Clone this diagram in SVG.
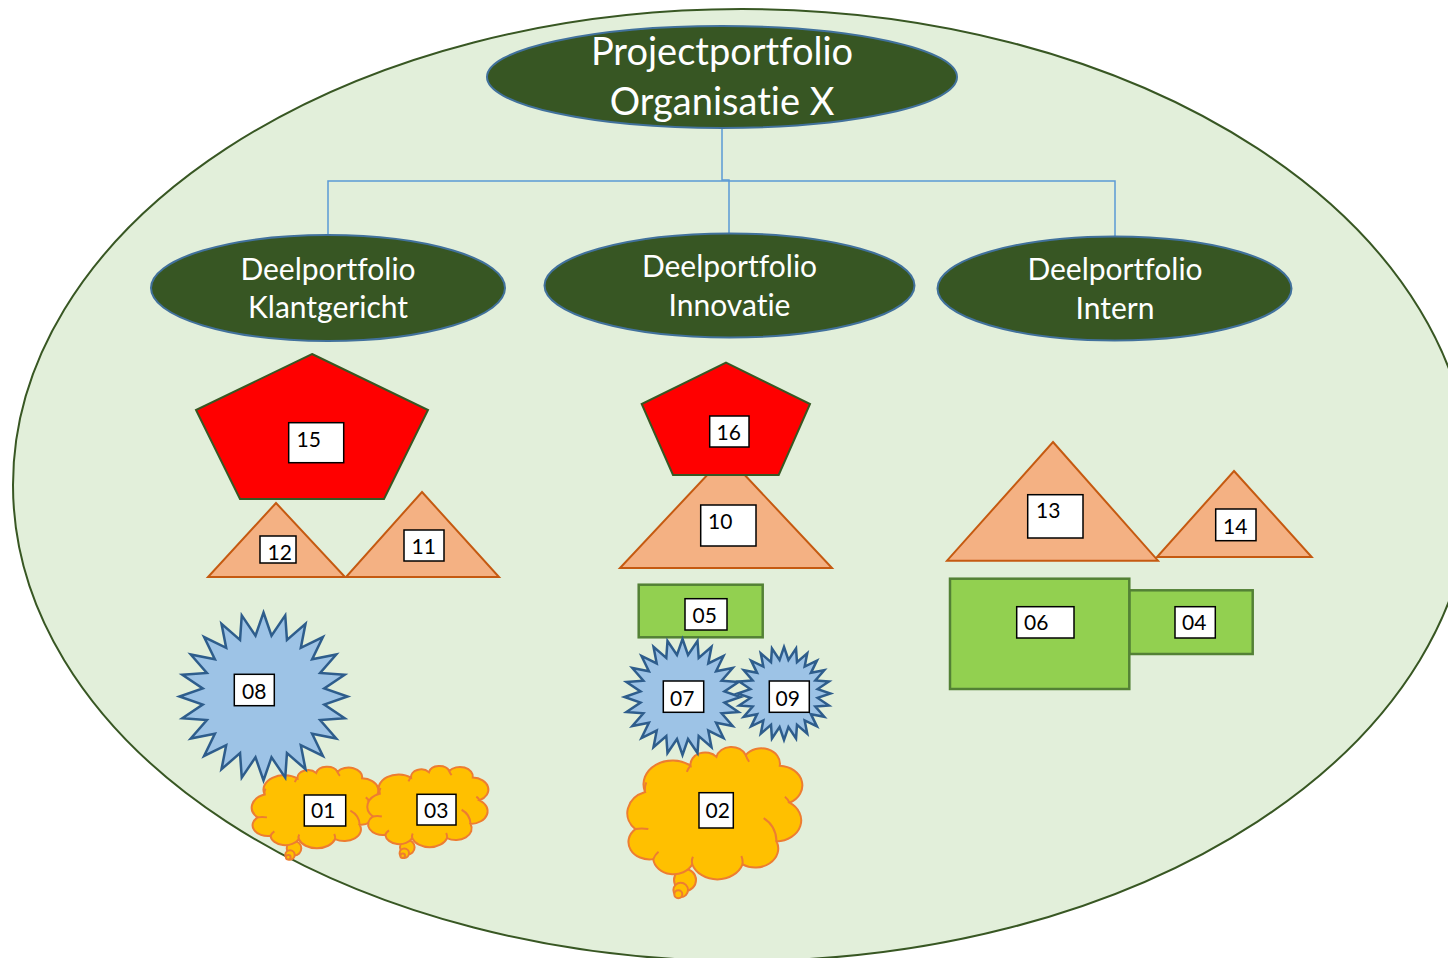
<svg xmlns="http://www.w3.org/2000/svg" xmlns:xlink="http://www.w3.org/1999/xlink" width="1448" height="958" viewBox="0 0 1448 958">
<style>
text{font-variant-ligatures:none;font-feature-settings:"liga" 0,"dlig" 0}
.head{fill:#375623;stroke:#41719C;stroke-width:2}
.ht{font-family:Lato,"Open Sans","Liberation Sans",sans-serif;fill:#ffffff;text-anchor:middle}
.pent{fill:#FF0000;stroke:#385723;stroke-width:2}
.tri{fill:#F4B183;stroke:#C55A11;stroke-width:2}
.rect{fill:#92D050;stroke:#538135;stroke-width:2.5}
.star{fill:#9DC3E6;stroke:#2E5D8C}
.cloud{fill:#FFC000;stroke:#ED7D31;stroke-width:2}
.crease{fill:none;stroke:#ED7D31;stroke-width:2}
.lbl{fill:#ffffff;stroke:#000000;stroke-width:1.5}
.lt{font-family:Lato,"Open Sans","Liberation Sans",sans-serif;font-size:21px;fill:#000000}
.conn{fill:none;stroke:#5B9BD5;stroke-width:1.5}
</style>
<defs>
<polygon id="star24" points="0,-100 9.53,-72.38 25.88,-96.59 27.93,-67.44 50,-86.6 44.44,-57.91 70.71,-70.71 57.91,-44.44 86.6,-50 67.44,-27.93 96.59,-25.88 72.38,-9.53 100,0 72.38,9.53 96.59,25.88 67.44,27.93 86.6,50 57.91,44.44 70.71,70.71 44.44,57.91 50,86.6 27.93,67.44 25.88,96.59 9.53,72.38 0,100 -9.53,72.38 -25.88,96.59 -27.93,67.44 -50,86.6 -44.44,57.91 -70.71,70.71 -57.91,44.44 -86.6,50 -67.44,27.93 -96.59,25.88 -72.38,9.53 -100,0 -72.38,-9.53 -96.59,-25.88 -67.44,-27.93 -86.6,-50 -57.91,-44.44 -70.71,-70.71 -44.44,-57.91 -50,-86.6 -27.93,-67.44 -25.88,-96.59 -9.53,-72.38"/>
<path id="cloudBody" vector-effect="non-scaling-stroke" d="M9.1,33.9 A17,17 0 0 1 35.8,15.1 A8.6,8.6 0 0 1 51,8.8 A9,9 0 0 1 68.2,7.5 A11,11 0 0 1 88.2,15.1 A14,14 0 0 1 93.9,41.5 A15,15 0 0 1 86.3,69.1 A13.5,13.5 0 0 1 66.3,85.4 A15.5,15.5 0 0 1 36.8,85.4 A12,12 0 0 1 13.9,81.7 A12.4,12.4 0 0 1 3.4,60.3 A16,16 0 0 1 9.1,33.9 Z"/>
<path id="cloudCrease" vector-effect="non-scaling-stroke" d="M9.8,27 Q8.6,30.5 9.1,33.9 M35.8,15.1 Q34.3,17 33.6,19.5 M68.2,7.5 Q68.8,10 70.2,12.3 M93.9,41.5 Q93,39 91.2,37.2 M78.7,52.5 Q86,58 86.3,69.1 M66.3,85.4 Q66.6,82 65.6,79.5 M36.8,85.4 Q36.2,82.5 37.2,80 M13.9,81.7 Q15,78.5 17,76.5 M3.4,60.3 Q7,59.4 11,60.3"/>
</defs>

<g id="background">
<ellipse cx="742" cy="485" rx="729" ry="476" fill="#E2EFDA" stroke="#385723" stroke-width="2"/>
</g>

<g id="connectors">
<path class="conn" d="M722,128 V180 H729 V234"/>
<path class="conn" d="M328,236 V181 H1115 V237"/>
</g>

<g id="node-root">
<ellipse class="head" cx="722" cy="77" rx="235" ry="51"/>
<text class="ht" x="722" y="65" font-size="38">Projectportfolio</text>
<text class="ht" x="722" y="115" font-size="38">Organisatie X</text>
</g>

<g id="node-klantgericht">
<ellipse class="head" cx="328" cy="288" rx="177" ry="53"/>
<text class="ht" x="328" y="280" font-size="30">Deelportfolio</text>
<text class="ht" x="328" y="318" font-size="30">Klantgericht</text>
</g>

<g id="node-innovatie">
<ellipse class="head" cx="729.5" cy="285.5" rx="185" ry="52"/>
<text class="ht" x="729.5" y="277" font-size="30">Deelportfolio</text>
<text class="ht" x="729.5" y="316" font-size="30">Innovatie</text>
</g>

<g id="node-intern">
<ellipse class="head" cx="1114.5" cy="288.5" rx="177" ry="52"/>
<text class="ht" x="1115" y="280" font-size="30">Deelportfolio</text>
<text class="ht" x="1115" y="319" font-size="30">Intern</text>
</g>

<g id="node-15">
<polygon class="pent" points="312,354 428,410 384,499 240,499 196,410"/>
<rect class="lbl" x="288.7" y="422.7" width="55" height="40"/>
<text class="lt" x="296.5" y="446.7">15</text>
</g>

<g id="node-12">
<polygon class="tri" points="276,503 345,577 208,577"/>
<rect class="lbl" x="260" y="536" width="36" height="27"/>
<text class="lt" x="267.5" y="560">12</text>
</g>

<g id="node-11">
<polygon class="tri" points="422,492 499,577 346,577"/>
<rect class="lbl" x="404" y="530" width="40" height="31"/>
<text class="lt" x="411.5" y="554">11</text>
</g>

<g id="node-10">
<polygon class="tri" points="726,455 832,568 620,568"/>
<rect class="lbl" x="700.7" y="505" width="55.3" height="41"/>
<text class="lt" x="708" y="528.5">10</text>
</g>

<g id="node-16">
<polygon class="pent" points="726,362.7 810,404 778.7,475 673,475 641.7,404"/>
<rect class="lbl" x="709.7" y="416" width="39.3" height="31"/>
<text class="lt" x="716.5" y="440">16</text>
</g>

<g id="node-05">
<rect class="rect" x="638.7" y="584.7" width="124" height="52.6"/>
<rect class="lbl" x="685" y="598.7" width="42" height="31.3"/>
<text class="lt" x="692.5" y="623.3">05</text>
</g>

<g id="node-13">
<polygon class="tri" points="1053,442 1158,560.7 947,560.7"/>
<rect class="lbl" x="1027.7" y="494.7" width="55.3" height="43.3"/>
<text class="lt" x="1036" y="518.3">13</text>
</g>

<g id="node-14">
<polygon class="tri" points="1234,471 1311.7,557 1157,557"/>
<rect class="lbl" x="1215.7" y="509" width="40.3" height="31.7"/>
<text class="lt" x="1223" y="534">14</text>
</g>

<g id="node-04">
<rect class="rect" x="1129.3" y="590.3" width="123.4" height="63.7"/>
<rect class="lbl" x="1175" y="606.7" width="40.3" height="31.3"/>
<text class="lt" x="1182" y="630">04</text>
</g>

<g id="node-06">
<rect class="rect" x="950" y="578.7" width="179.3" height="110.3"/>
<rect class="lbl" x="1016.7" y="606.7" width="57.3" height="31.3"/>
<text class="lt" x="1024" y="630">06</text>
</g>

<g id="node-01">
<circle class="cloud" cx="294" cy="848.3" r="7.3"/>
<circle class="cloud" cx="290" cy="855" r="4.7"/>
<circle class="cloud" cx="288.3" cy="857.3" r="2.3"/>
<g transform="translate(253.4,765.3) scale(1.232,0.8635)">
<use xlink:href="#cloudBody" class="cloud"/>
<use xlink:href="#cloudCrease" class="crease"/>
</g>
<rect class="lbl" x="304.3" y="795" width="41.4" height="31"/>
<text class="lt" x="311" y="818.3">01</text>
</g>

<g id="node-03">
<circle class="cloud" cx="407.3" cy="847.3" r="7.3"/>
<circle class="cloud" cx="404.3" cy="853.3" r="4.7"/>
<circle class="cloud" cx="402.7" cy="855.7" r="2.3"/>
<g transform="translate(368.9,764.6) scale(1.178,0.86)">
<use xlink:href="#cloudBody" class="cloud"/>
<use xlink:href="#cloudCrease" class="crease"/>
</g>
<rect class="lbl" x="417" y="794.3" width="39" height="30.7"/>
<text class="lt" x="424" y="817.5">03</text>
</g>

<g id="node-02">
<circle class="cloud" cx="685" cy="880" r="11"/>
<circle class="cloud" cx="680.7" cy="890" r="7.3"/>
<circle class="cloud" cx="678.3" cy="894.3" r="4"/>
<g transform="translate(629.6,744.5) scale(1.703,1.403)">
<use xlink:href="#cloudBody" class="cloud"/>
<use xlink:href="#cloudCrease" class="crease"/>
</g>
<rect class="lbl" x="699" y="792.7" width="34.3" height="35.3"/>
<text class="lt" x="705.5" y="818.3">02</text>
</g>

<g id="node-08">
<use xlink:href="#star24" class="star" transform="translate(263.5,696.5) scale(0.84)" stroke-width="3"/>
<rect class="lbl" x="234.3" y="674.3" width="40" height="31.4"/>
<text class="lt" x="242" y="699">08</text>
</g>

<g id="node-07">
<use xlink:href="#star24" class="star" transform="translate(682.5,697) scale(0.58)" stroke-width="4.3"/>
<rect class="lbl" x="663.3" y="681" width="40.4" height="31.3"/>
<text class="lt" x="670" y="706">07</text>
</g>

<g id="node-09">
<use xlink:href="#star24" class="star" transform="translate(784,693.5) scale(0.465)" stroke-width="5.4"/>
<rect class="lbl" x="769.3" y="681" width="40" height="31.3"/>
<text class="lt" x="775.5" y="706">09</text>
</g>
</svg>
